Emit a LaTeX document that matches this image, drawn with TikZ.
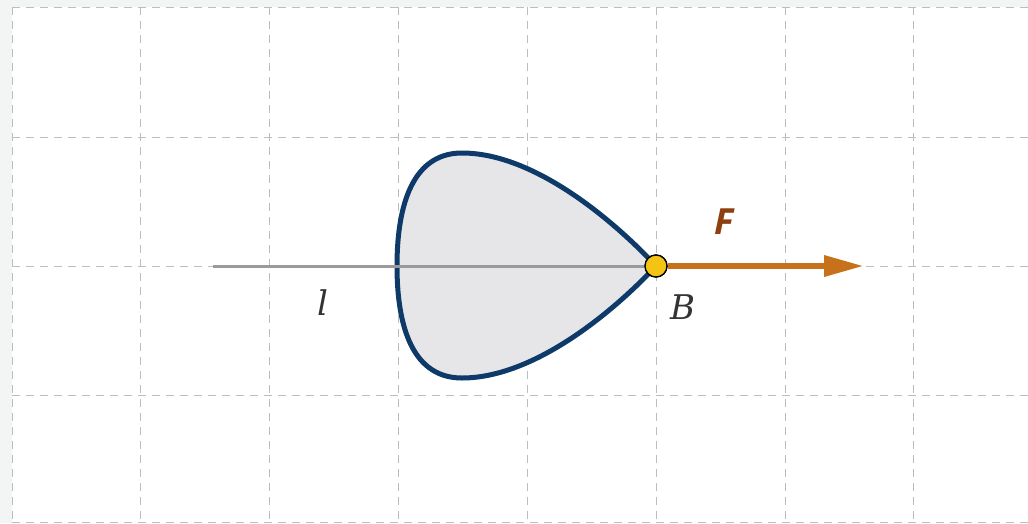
\documentclass[tikz,border=0pt]{standalone}
\usepackage{fontspec}
\newfontfamily\lblfont{DejaVu Serif}
\newfontfamily\ffont{Open Sans}
\usetikzlibrary{arrows.meta}
\definecolor{bgout}{HTML}{F3F5F5}
\definecolor{gridc}{HTML}{BDBDBD}
\definecolor{navy}{HTML}{0E3A6A}
\definecolor{fillg}{HTML}{E6E6E8}
\definecolor{axisg}{HTML}{9A9A9A}
\definecolor{forcec}{HTML}{C8711B}
\definecolor{flab}{HTML}{8E3F10}
\definecolor{ptfill}{HTML}{F4C414}
\definecolor{txt}{HTML}{333333}
\tikzset{
  gridline/.style={draw=gridc, line width=1pt, dash pattern=on 8pt off 6pt},
  body/.style={draw=navy, line width=5pt, fill=fillg},
  axis/.style={draw=axisg, line width=3pt},
  force/.style={draw=forcec, line width=6.5pt, -{Triangle[length=40pt,width=20pt]}},
  pt/.style={circle, draw=black, line width=1.3pt, fill=ptfill, minimum size=22pt, inner sep=0pt},
  lbl/.style={font=\lblfont\itshape\fontsize{34}{40}\selectfont, text=txt, inner sep=0pt},
  flbl/.style={font=\ffont\bfseries\itshape\fontsize{36}{42}\selectfont, text=flab, inner sep=0pt}
}
\begin{document}
\begin{tikzpicture}[x=1pt,y=-1pt]
\useasboundingbox (0,0) rectangle (1028,523);
\fill[bgout] (0,0) rectangle (1028,523);
\fill[white] (12,7) rectangle (1028,523);
\foreach \x in {12,140.5,269,398,527,656,785,913}
  \draw[gridline] (\x,7) -- (\x,523);
\foreach \y in {7,137,266,395,522}
  \draw[gridline] (12,\y) -- (1028,\y);
% body
\path[body] (656,266) .. controls (615,222) and (535,153) .. (462,153)
  .. controls (408,153) and (397,215) .. (397,266)
  .. controls (397,317) and (408,378) .. (462,378)
  .. controls (535,378) and (615,310) .. (656,266) -- cycle;
\coordinate (lstart) at (213,266);
\node[pt] (B) at (656,266) {};
\coordinate (ftip) at (864,266);
\draw[axis] (lstart) -- (B.center);
\draw[force] (B.east) -- (ftip);
\node[pt] at (B) {};
\node[lbl] (l) at (323,303) {l};
\node[lbl] (Blab) at (683,307) {B};
\node[flbl] (F) at (724,222) {F};
\end{tikzpicture}
\end{document}
